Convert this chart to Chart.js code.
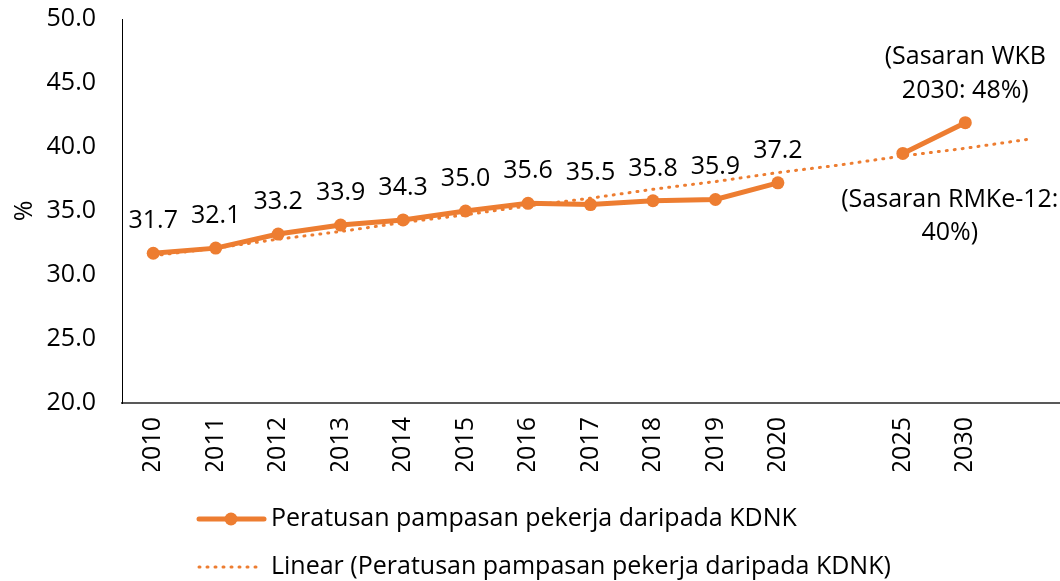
<!DOCTYPE html>
<html>
<head>
<meta charset="utf-8">
<script src="https://cdn.jsdelivr.net/npm/chart.js@4/dist/chart.umd.min.js"></script>
<style>
  html, body { margin: 0; padding: 0; background: #fff; overflow: hidden; }
  canvas { display: block; }
</style>
</head>
<body>
<canvas id="chart" width="1060" height="581"></canvas>
<script>
// Data.
var years = ["2010", "2011", "2012", "2013", "2014", "2015", "2016", "2017",
             "2018", "2019", "2020", "", "2025", "2030", ""];
var pampasan = [31.7, 32.1, 33.2, 33.9, 34.3, 35.0, 35.6, 35.5,
                35.8, 35.9, 37.2, null, 39.5, 41.9, null];
var trendLinear = [31.5, 32.1, 32.8, 33.4, 34.1, 34.7, 35.4, 36.0,
                   36.7, 37.3, 38.0, 38.6, 39.3, 39.9, 40.6];
var yTicks = [20, 25, 30, 35, 40, 45, 50];
var noteWKB = ["(Sasaran WKB", "2030: 48%)"];
var noteRMK = ["(Sasaran RMKe-12:", "40%)"];
var seriesName = "Peratusan pampasan pekerja daripada KDNK";
var trendName = "Linear (Peratusan pampasan pekerja daripada KDNK)";

var orange = "#ED7D31";
var fontFamily = "'Open Sans', sans-serif";
var fontSize = 25;

Chart.defaults.font.family = fontFamily;
Chart.defaults.font.size = fontSize;
Chart.defaults.color = "#000";

// Value labels, target notes and the two-row legend.
var labelsPlugin = {
    id: "labelsPlugin",
    afterDatasetsDraw: function(chart) {
        var ctx = chart.ctx;
        var pts = chart.getDatasetMeta(0).data;
        ctx.save();
        ctx.fillStyle = "#000";
        ctx.font = fontSize + "px " + fontFamily;
        ctx.textAlign = "center";
        ctx.textBaseline = "alphabetic";
        for (var i = 0; i <= 10; ++i) {
            if (pampasan[i] == null) continue;
            ctx.fillText(pampasan[i].toFixed(1), pts[i].x, pts[i].y - 25);
        }
        // 2030 note above its point, 2025 note below its point.
        var p30 = pts[13], p25 = pts[12];
        ctx.fillText(noteWKB[0], p30.x, p30.y - 59);
        ctx.fillText(noteWKB[1], p30.x, p30.y - 25);
        ctx.fillText(noteRMK[0], p25.x + 47, p25.y + 54);
        ctx.fillText(noteRMK[1], p25.x + 47, p25.y + 87);
        ctx.restore();
    },
    afterDraw: function(chart) {
        var ctx = chart.ctx;
        ctx.save();
        ctx.font = fontSize + "px " + fontFamily;
        ctx.fillStyle = "#000";
        ctx.textAlign = "left";
        ctx.textBaseline = "middle";
        // series row
        ctx.strokeStyle = orange;
        ctx.lineWidth = 5;
        ctx.lineCap = "round";
        ctx.beginPath();
        ctx.moveTo(199, 519);
        ctx.lineTo(264, 519);
        ctx.stroke();
        ctx.fillStyle = orange;
        ctx.beginPath();
        ctx.arc(231, 519, 6.5, 0, Math.PI * 2);
        ctx.fill();
        ctx.fillStyle = "#000";
        ctx.fillText(seriesName, 271, 519);
        // trend row
        ctx.lineWidth = 3;
        ctx.setLineDash([1, 7]);
        ctx.beginPath();
        ctx.moveTo(199, 567);
        ctx.lineTo(258, 567);
        ctx.stroke();
        ctx.setLineDash([]);
        ctx.fillText(trendName, 271, 567);
        ctx.restore();
    }
};

new Chart(document.getElementById("chart"), {
    type: "line",
    data: {
        labels: years,
        datasets: [{
            label: seriesName,
            data: pampasan,
            borderColor: orange,
            backgroundColor: orange,
            borderWidth: 5,
            pointRadius: 6.5,
            pointHoverRadius: 6.5,
            pointBorderWidth: 0,
            spanGaps: false,
            tension: 0
        }, {
            label: trendName,
            data: trendLinear,
            borderColor: orange,
            borderWidth: 3,
            borderDash: [1, 7],
            borderCapStyle: "round",
            pointRadius: 0,
            tension: 0
        }]
    },
    options: {
        responsive: false,
        animation: false,
        layout: {
            autoPadding: false,
            padding: { top: 19, right: 1, left: 0, bottom: 110 }
        },
        plugins: {
            legend: { display: false },
            tooltip: { enabled: false }
        },
        scales: {
            x: {
                offset: true,
                grid: { display: false, drawTicks: false },
                border: { color: "#595959", width: 2 },
                ticks: { minRotation: 90, maxRotation: 90, autoSkip: false, padding: 14 },
                afterFit: function(scale) {
                    scale.height = 68;
                    scale.paddingLeft = 0;
                    scale.paddingRight = 0;
                }
            },
            y: {
                min: 20,
                max: 50,
                afterBuildTicks: function(scale) {
                    scale.ticks = yTicks.map(function(v) { return { value: v }; });
                },
                grid: { display: false, drawTicks: false },
                border: { color: "#000", width: 1 },
                ticks: {
                    padding: 26,
                    callback: function(v) { return Number(v).toFixed(1); }
                },
                title: { display: true, text: "%", padding: { top: 10, bottom: 0 } },
                afterFit: function(scale) {
                    scale.width = 122;
                    scale.paddingTop = 0;
                    scale.paddingBottom = 0;
                }
            }
        }
    },
    plugins: [labelsPlugin]
});
</script>
</body>
</html>
